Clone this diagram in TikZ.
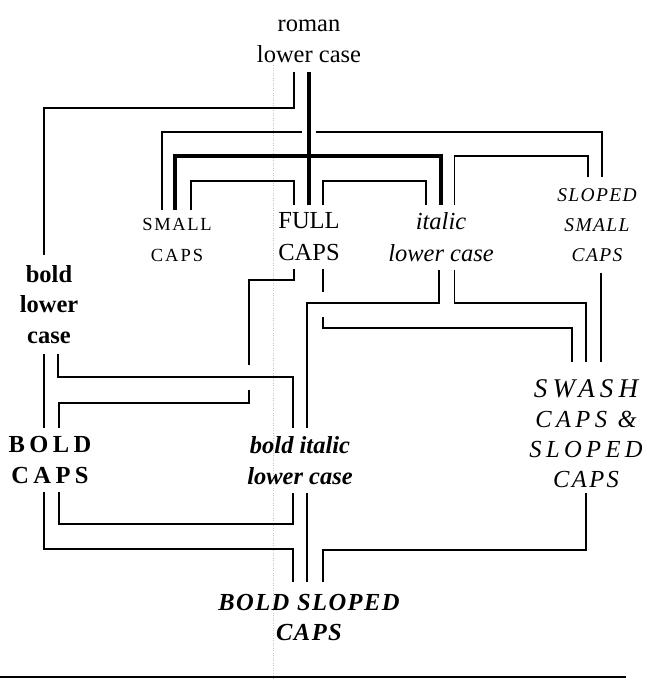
\documentclass[tikz,border=0pt]{standalone}
\usepackage{fontspec}
\setmainfont{Liberation Serif}
\tikzset{
  wire/.style={line width=1.5pt, line join=miter, line cap=butt},
  heavy/.style={line width=4.5pt, line join=miter, line cap=butt},
  lbl/.style={inner xsep=0pt, align=center},
  guide/.style={gray!45, line width=0.5pt, dotted},
}
\begin{document}
\begin{tikzpicture}[x=1pt,y=-1pt]
\useasboundingbox (0,0) rectangle (652,680);
\draw[guide] (273,65) -- (273,680);

% nodes
\node[lbl, anchor=south, inner ysep=9pt, font={\fontsize{24.5}{31}\selectfont}] (roman) at (309,72) {roman\\lower case};
\node[lbl, anchor=north, inner ysep=8pt, font={\fontsize{18.5}{31}\selectfont}] (small) at (177,210)
  {{\addfontfeature{LetterSpace=9}SMALL}\\{\addfontfeature{LetterSpace=11}CAPS}};
\node[lbl, anchor=north, inner ysep=7.5pt, font={\fontsize{24.5}{32}\selectfont}] (full) at (309,205) {FULL\\CAPS};
\node[lbl, anchor=north, inner ysep=7.5pt, font={\fontsize{24.5}{32}\selectfont\itshape}] (ital) at (441,205) {italic\\lower case};
\node[lbl, anchor=north, inner ysep=11pt, font={\fontsize{19.5}{30}\selectfont\itshape\addfontfeature{LetterSpace=7}}] (ssc) at (597,177) {SLOPED\\SMALL\\CAPS};
\node[lbl, anchor=north, inner ysep=10pt, font={\fontsize{24.5}{30.5}\selectfont\bfseries}] (blc) at (49,255) {bold\\lower\\case};
\node[lbl, anchor=north, inner ysep=8pt, font={\fontsize{24.5}{31}\selectfont\bfseries\addfontfeature{LetterSpace=18}}] (bcaps) at (50,428) {BOLD\\CAPS};
\node[lbl, anchor=north, inner ysep=8pt, font={\fontsize{24.5}{31}\selectfont\bfseries\itshape}] (bital) at (300,428) {bold italic\\lower case};
\node[lbl, anchor=north, inner ysep=5pt, font={\fontsize{24.5}{30}\selectfont\itshape}] (swash) at (586,362)
  {\rule{0pt}{30pt}{\fontsize{27}{30}\selectfont\addfontfeature{LetterSpace=19}SWASH}\\{\addfontfeature{LetterSpace=18}CAPS \&}\\{\addfontfeature{LetterSpace=18}SLOPED}\\{\addfontfeature{LetterSpace=10}CAPS}};
\node[lbl, anchor=north, inner ysep=12pt, font={\fontsize{24.5}{30}\selectfont\bfseries\itshape\addfontfeature{LetterSpace=6}}] (bsc) at (309,582) {BOLD SLOPED\\CAPS};

% heavy connectors
\draw[heavy] (roman.south) -- (full.north);
\draw[heavy] ([xshift=-2pt]small.north) |- (309,156) -| (ital.north);

% thin connectors
\draw[wire] ([xshift=-15pt]roman.south) |- (44,108) -- ([xshift=-5pt]blc.north);
\draw[wire] ([xshift=-15pt]small.north) |- (302,132) (316,132) -| ([xshift=5pt]ssc.north);
\draw[wire] ([xshift=14pt]small.north) |- (294,181) -- ([xshift=-15pt]full.north);
\draw[wire] ([xshift=14pt]full.north) |- (426,181) -- ([xshift=-15pt]ital.north);
\draw[wire] ([xshift=13.5pt]ital.north) |- (588,156) -- ([xshift=-9pt]ssc.north);
\draw[wire] ([xshift=-15pt]full.south) |- (249,280) -- (249,365) (249,390) -- (249,403) -| ([xshift=9pt]bcaps.north);
\draw[wire] ([xshift=14pt]full.south) -- (323,292) (323,317) |- (572,328) -- ([xshift=-14pt]swash.north);
\draw[wire] ([xshift=-2pt]ital.south) |- (307,303) -- ([xshift=7pt]bital.north);
\draw[wire] ([xshift=13.5pt]ital.south) |- (586,303) -- (swash.north);
\draw[wire] ([xshift=4pt]ssc.south) -- ([xshift=15pt]swash.north);
\draw[wire] ([xshift=-5pt]blc.south) -- ([xshift=-6pt]bcaps.north);
\draw[wire] ([xshift=9pt]blc.south) |- (293,377) -- ([xshift=-7pt]bital.north);
\draw[wire] ([xshift=9pt]bcaps.south) |- (293,524) -- ([xshift=-7pt]bital.south);
\draw[wire] ([xshift=-6pt]bcaps.south) |- (293,549) -- ([xshift=-16pt]bsc.north);
\draw[wire] ([xshift=7pt]bital.south) -- ([xshift=-2pt]bsc.north);
\draw[wire] (swash.south) |- (323,550) -- ([xshift=14pt]bsc.north);

% rule
\draw[line width=2pt] (0,677) -- (626,677);
\end{tikzpicture}
\end{document}
